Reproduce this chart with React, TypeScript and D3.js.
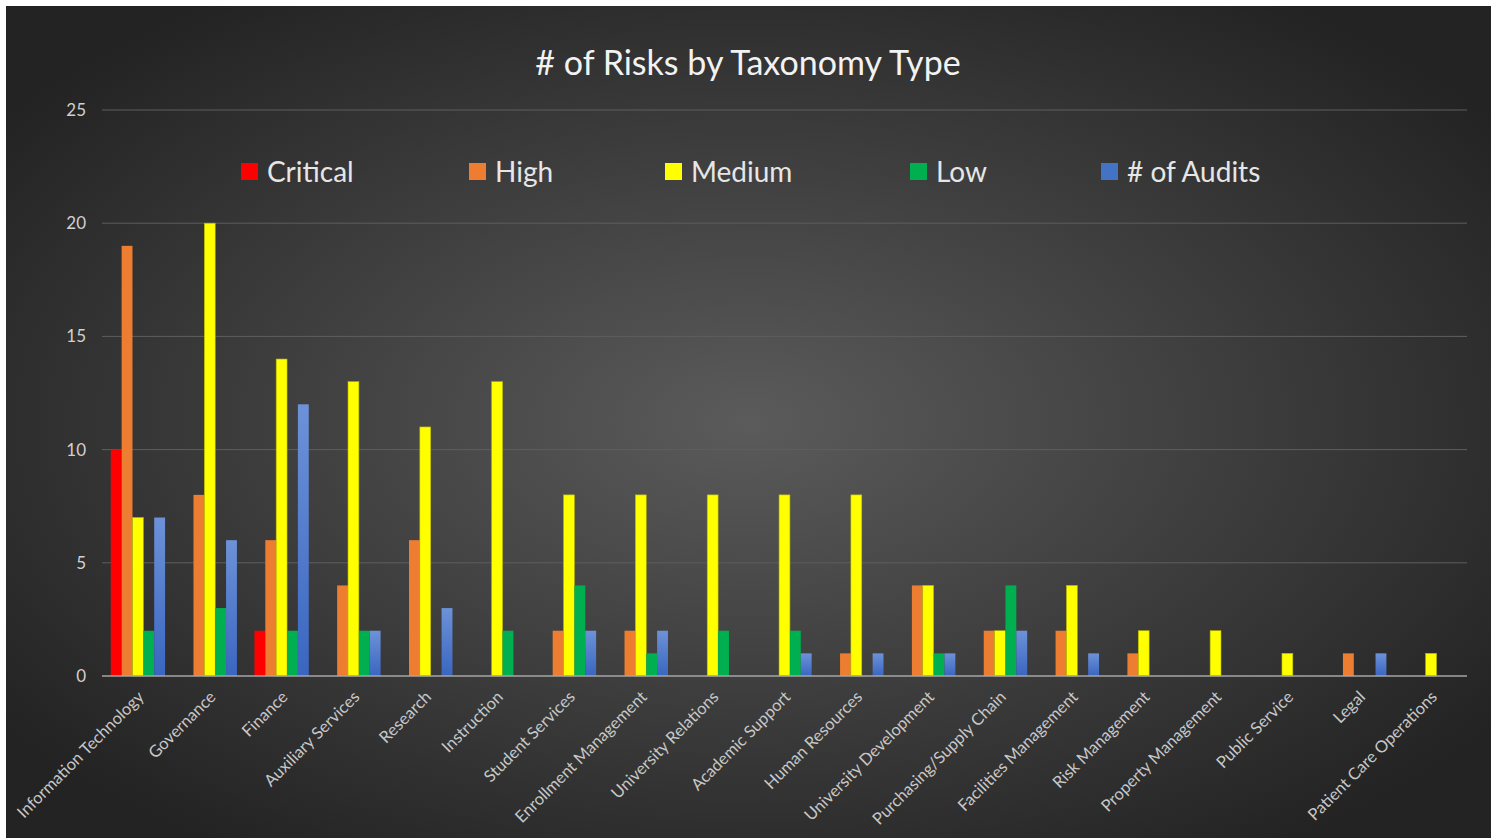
import React from "react";
import * as d3 from "d3";

const categories = [
  "Information Technology", "Governance", "Finance", "Auxiliary Services", "Research",
  "Instruction", "Student Services", "Enrollment Management", "University Relations",
  "Academic Support", "Human Resources", "University Development", "Purchasing/Supply Chain",
  "Facilities Management", "Risk Management", "Property Management", "Public Service",
  "Legal", "Patient Care Operations",
];
const seriesNames = ["Critical", "High", "Medium", "Low", "# of Audits"];
const critical = [10, 0, 2, 0, 0, 0, 0, 0, 0, 0, 0, 0, 0, 0, 0, 0, 0, 0, 0];
const high = [19, 8, 6, 4, 6, 0, 2, 2, 0, 0, 1, 4, 2, 2, 1, 0, 0, 1, 0];
const medium = [7, 20, 14, 13, 11, 13, 8, 8, 8, 8, 8, 4, 2, 4, 2, 2, 1, 0, 1];
const low = [2, 3, 2, 2, 0, 2, 4, 1, 2, 2, 0, 1, 4, 0, 0, 0, 0, 0, 0];
const audits = [7, 6, 12, 2, 3, 0, 2, 2, 0, 1, 1, 1, 2, 1, 0, 0, 0, 1, 0];
const yTicks = [0, 5, 10, 15, 20, 25];
const title = "# of Risks by Taxonomy Type";

const seriesValues = [critical, high, medium, low, audits];
const colors = ["#FF0000", "#ED7D31", "#FFFF00", "#00B050", "url(#blueGrad)"];
const swatch = ["#FF0000", "#ED7D31", "#FFFF00", "#00B050", "#4472C4"];
const legendX = [241, 469, 665, 910, 1101];

const W = 1497, H = 838;
const FONT = "Lato, 'Open Sans', sans-serif";

export default function App() {
  const x0 = d3.scaleBand<string>().domain(categories).range([102, 1467]).paddingInner(0.244).paddingOuter(0.122);
  const x1 = d3.scaleBand<string>().domain(seriesNames).range([0, x0.bandwidth()]);
  const y = d3.scaleLinear().domain([0, 25]).range([676, 110]);

  return (
    <div style={{ position: "fixed", left: 0, top: 0 }}>
      <svg width={W} height={H} style={{ display: "block" }}>
        <defs>
          <radialGradient id="bg" cx="50%" cy="50%" r="62%">
            <stop offset="0%" stopColor="#5b5b5b" />
            <stop offset="100%" stopColor="#232323" />
          </radialGradient>
          <linearGradient id="blueGrad" x1="0" y1="0" x2="0" y2="1">
            <stop offset="0%" stopColor="#6d92d8" />
            <stop offset="100%" stopColor="#3a66c0" />
          </linearGradient>
        </defs>
        <rect x={0} y={0} width={W} height={H} fill="#ffffff" />
        <rect x={6} y={6} width={1485} height={H - 6} fill="url(#bg)" />
        <text x={748} y={75} textAnchor="middle" fill="#f2f2f2" fontFamily={FONT} fontSize={34}>{title}</text>
        {yTicks.map((t) => (
          <g key={t}>
            {t > 0 && <line x1={102} x2={1467} y1={y(t)} y2={y(t)} stroke="#5e5e5e" strokeWidth={1} />}
            <text x={86} y={y(t)} dy="0.35em" textAnchor="end" fill="#d0d0d0" fontFamily={FONT} fontSize={17}>{t}</text>
          </g>
        ))}
        {categories.map((c, i) => (
          <g key={c} transform={`translate(${x0(c)},0)`}>
            {seriesNames.map((s, j) => {
              const v = seriesValues[j][i];
              if (!v) return null;
              return (
                <rect key={s} x={x1(s)} width={x1.bandwidth()} y={y(v)} height={y(0) - y(v)}
                  fill={colors[j]} stroke={j === 2 ? "#b8b800" : "none"} strokeWidth={0.6} />
              );
            })}
          </g>
        ))}
        <line x1={102} x2={1467} y1={y(0)} y2={y(0)} stroke="#a6a6a6" strokeWidth={1.5} />
        {categories.map((c) => {
          const cx = (x0(c) as number) + x0.bandwidth() / 2;
          return (
            <text key={c} transform={`translate(${cx + 7},${698}) rotate(-45)`} textAnchor="end"
              fill="#c8c8c8" fontFamily={FONT} fontSize={16.5}>{c}</text>
          );
        })}
        {seriesNames.map((s, j) => (
          <g key={s}>
            <rect x={legendX[j]} y={163} width={17} height={17} fill={swatch[j]} />
            <text x={legendX[j] + 26} y={172} dy="0.35em" fill="#e6e6e6" fontFamily={FONT} fontSize={28}>{s}</text>
          </g>
        ))}
      </svg>
    </div>
  );
}
